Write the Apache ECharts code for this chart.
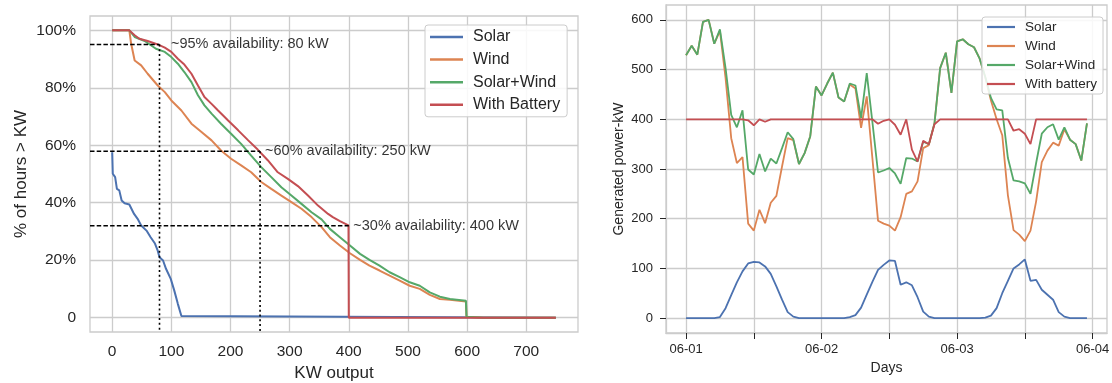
<!DOCTYPE html>
<html><head><meta charset="utf-8">
<script src="https://cdn.jsdelivr.net/npm/echarts@6/dist/echarts.min.js"></script>
<style>html,body{margin:0;padding:0;background:#fff}#c{width:1112px;height:383px}</style>
</head><body><div id="c"></div>
<script>
// ---------- Left chart: duration curves (kW output vs fraction of hours) ----------
const solarKW   = [0, 1, 5, 8, 12, 16, 21, 29, 37, 43, 49, 58, 65, 72, 77, 80, 86, 91, 99, 105, 111, 117, 118, 750];
const solarFrac = [.576, .501, .489, .448, .443, .408, .398, .394, .361, .344, .321, .303, .280, .259, .233, .210, .199, .170, .135, .094, .048, .006, 0, 0];

const windKW   = [0, 29, 32, 38, 49, 60, 77, 89, 100, 117, 134, 151, 168, 184, 201, 218, 235, 252, 269, 286, 303, 320, 337, 354, 368, 385, 402, 419, 435, 452, 469, 486, 503, 520, 537, 554, 571, 598, 599, 627, 750];
const windFrac = [1, 1, .954, .895, .878, .849, .808, .785, .756, .721, .675, .646, .617, .582, .553, .530, .506, .472, .448, .425, .402, .379, .350, .315, .280, .251, .224, .201, .181, .164, .146, .129, .111, .100, .079, .065, .062, .056, .003, 0, 0];

const swKW   = [0, 29, 38, 55, 74, 89, 100, 111, 122, 134, 145, 156, 168, 184, 201, 218, 235, 252, 269, 286, 303, 320, 337, 354, 368, 385, 402, 419, 435, 452, 469, 486, 503, 520, 537, 554, 571, 598, 599, 627, 750];
const swFrac = [1, 1, .977, .963, .936, .925, .907, .884, .855, .820, .774, .739, .710, .675, .640, .605, .564, .524, .489, .454, .425, .396, .367, .342, .309, .280, .251, .222, .201, .181, .158, .141, .123, .111, .088, .073, .065, .059, .003, 0, 0];

const battKW   = [0, 29, 38, 46, 60, 77, 89, 100, 111, 122, 134, 145, 156, 168, 179, 196, 213, 230, 246, 263, 280, 297, 314, 331, 348, 365, 373, 385, 399.5, 400, 750];
const battFrac = [1, 1, .983, .971, .963, .951, .940, .925, .901, .881, .849, .808, .768, .744, .721, .686, .652, .617, .585, .548, .506, .483, .458, .425, .390, .361, .350, .336, .321, 0, 0];

const leftXTicks = [0, 100, 200, 300, 400, 500, 600, 700];
const leftYTicks = [0, 0.2, 0.4, 0.6, 0.8, 1.0];

const annotKW   = [80, 250, 400];
const annotFrac = [0.951, 0.579, 0.32];
const annotVert = [true, true, false];
const annotText = ['~95% availability: 80 kW', '~60% availability: 250 kW', '~30% availability: 400 kW'];

// ---------- Right chart: hourly generation over 3 days (hour index 0..71) ----------
const hours = [];
for (let h = 0; h < 72; h++) hours.push(h);
const solarHourly = [0,0,0,0,0,0,2,20,46,72,94,110,113,112,104,89,64,37,12,3,0,0,0,0,
  0,0,0,0,0,2,6,21,47,73,97,107,116,115,67,72,66,42,13,3,0,0,0,0,
  0,0,0,0,0,1,5,20,50,75,100,108,118,75,77,57,47,37,12,3,0,0,0,0];
const windHourly = [529,548,530,596,600,552,578,483,362,312,324,190,176,218,191,232,246,305,362,358,310,332,366,466,
  448,472,494,444,436,470,462,383,446,322,196,190,186,176,203,250,255,275,342,348,392,503,534,453,
  557,561,551,545,522,484,438,400,368,247,177,168,155,176,235,314,337,353,347,380,359,350,317,392];
const swHourly = [529,548,530,596,600,552,581,503,409,384,418,299,289,330,295,321,311,342,374,360,310,332,366,466,
  448,472,494,444,436,472,468,403,493,395,293,297,302,291,270,322,321,315,355,350,392,503,534,453,
  557,561,551,545,522,485,443,420,418,322,277,275,271,250,312,371,384,390,359,384,359,350,317,392];
const battHourly = [400,400,400,400,400,400,400,400,400,400,400,398,388,400,395,400,400,400,400,400,400,400,400,400,
  400,400,400,400,400,400,400,400,400,400,391,397,400,389,369,400,339,315,357,350,390,400,400,400,
  400,400,400,400,400,400,400,400,400,400,377,380,371,350,400,400,400,400,400,400,400,400,400,400];
const rightXTicks = [0, 12, 24, 36, 48, 60, 72];
const rightXLabels = [0, 24, 48, 72];
const dayNames = ['06-01', '06-02', '06-03', '06-04'];
const rightYTicks = [0, 100, 200, 300, 400, 500, 600];

// ---------- styling ----------
const FONT = 'Liberation Sans, Arial, sans-serif';
const TXT = '#262626';
const GRIDC = '#cccccc';
const C = {solar: '#4C72B0', wind: '#DD8452', sw: '#55A868', batt: '#C44E52'};

function zip(a, b) { return a.map((v, i) => [v, b[i]]); }

const LMIN = -37.5, LMAX = 787.5, LYMIN = -0.05, LYMAX = 1.05;

function lineSeries(name, data, color, xi, w) {
  return {
    type: 'line', name, data, xAxisIndex: xi, yAxisIndex: xi,
    showSymbol: false, symbol: 'none', animation: false, smooth: false,
    lineStyle: {color, width: w}, itemStyle: {color}, z: 3
  };
}

const series = [
  lineSeries('Solar', zip(solarKW, solarFrac), C.solar, 0, 2),
  lineSeries('Wind', zip(windKW, windFrac), C.wind, 0, 2),
  lineSeries('Solar+Wind', zip(swKW, swFrac), C.sw, 0, 2),
  lineSeries('With Battery', zip(battKW, battFrac), C.batt, 0, 2),
  lineSeries('Solar', zip(hours, solarHourly), C.solar, 1, 1.8),
  lineSeries('Wind', zip(hours, windHourly), C.wind, 1, 1.8),
  lineSeries('Solar+Wind', zip(hours, swHourly), C.sw, 1, 1.8),
  lineSeries('With battery', zip(hours, battHourly), C.batt, 1, 1.8)
];

const labelOffsets = [11, 4.5, 4];
annotKW.forEach((kw, i) => {
  series.push({
    type: 'line', xAxisIndex: 0, yAxisIndex: 0, symbol: 'none', animation: false, silent: true, z: 5,
    data: [[LMIN, annotFrac[i]], [kw, annotFrac[i]]],
    lineStyle: {color: '#000', width: 1.6, type: [4.5, 2.2]}
  });
  if (annotVert[i]) {
    series.push({
      type: 'line', xAxisIndex: 0, yAxisIndex: 0, symbol: 'none', animation: false, silent: true, z: 5,
      data: [[kw, annotFrac[i]], [kw, LYMIN]],
      lineStyle: {color: '#000', width: 1.6, type: [2, 2.8]}
    });
  }
  series.push({
    type: 'scatter', xAxisIndex: 0, yAxisIndex: 0, animation: false, silent: true, z: 6,
    symbolSize: 1, itemStyle: {color: 'rgba(0,0,0,0)'},
    data: [{value: [kw, annotFrac[i]], name: annotText[i]}],
    label: {show: true, position: 'right', distance: labelOffsets[i], formatter: '{b}',
      color: '#000', fontFamily: FONT, fontSize: 14.5}
  });
});

const option = {
  backgroundColor: '#fff',
  animation: false,
  textStyle: {fontFamily: FONT},
  grid: [
    {left: 90, top: 16, width: 488, height: 316, show: true, borderColor: GRIDC, borderWidth: 1.3,
      containLabel: false, outerBoundsMode: 'none'},
    {left: 666, top: 5, width: 441, height: 328, show: true, borderColor: GRIDC, borderWidth: 1.3,
      containLabel: false, outerBoundsMode: 'none'}
  ],
  xAxis: [
    {type: 'value', gridIndex: 0, min: LMIN, max: LMAX,
      name: 'KW output', nameLocation: 'middle', nameGap: 31,
      nameTextStyle: {color: TXT, fontSize: 17, fontFamily: FONT},
      axisLine: {show: false}, axisTick: {show: false, customValues: leftXTicks},
      axisLabel: {customValues: leftXTicks, color: TXT, fontSize: 15.5, fontFamily: FONT, margin: 12},
      splitLine: {show: true, lineStyle: {color: GRIDC, width: 1.3}}},
    {type: 'value', gridIndex: 1, min: -3.55, max: 74.55,
      name: 'Days', nameLocation: 'middle', nameGap: 28,
      nameTextStyle: {color: TXT, fontSize: 14, fontFamily: FONT},
      axisLine: {show: true, onZero: false, lineStyle: {color: GRIDC, width: 1.3}},
      axisTick: {show: true, customValues: rightXTicks, length: 6, lineStyle: {color: TXT, width: 1}},
      axisLabel: {customValues: rightXLabels, color: TXT, fontSize: 13, fontFamily: FONT, margin: 10,
        formatter: v => dayNames[Math.round(v / 24)]},
      splitLine: {show: true, lineStyle: {color: GRIDC, width: 1.3}}}
  ],
  yAxis: [
    {type: 'value', gridIndex: 0, min: LYMIN, max: LYMAX,
      name: '% of hours > KW', nameLocation: 'middle', nameGap: 60, nameRotate: 90,
      nameTextStyle: {color: TXT, fontSize: 17, fontFamily: FONT},
      axisLine: {show: false}, axisTick: {show: false, customValues: leftYTicks},
      axisLabel: {customValues: leftYTicks, color: TXT, fontSize: 15.5, fontFamily: FONT, margin: 14,
        formatter: v => (Math.abs(v) < 1e-9 ? '0' : Math.round(v * 100) + '%')},
      splitLine: {show: true, lineStyle: {color: GRIDC, width: 1.3}}},
    {type: 'value', gridIndex: 1, min: -30, max: 630,
      name: 'Generated power-kW', nameLocation: 'middle', nameGap: 40, nameRotate: 90,
      nameTextStyle: {color: TXT, fontSize: 14, fontFamily: FONT},
      axisLine: {show: true, onZero: false, lineStyle: {color: GRIDC, width: 1.3}},
      axisTick: {show: true, customValues: rightYTicks, length: 6, lineStyle: {color: TXT, width: 1}},
      axisLabel: {customValues: rightYTicks, color: TXT, fontSize: 13, fontFamily: FONT, margin: 13},
      splitLine: {show: true, lineStyle: {color: GRIDC, width: 1.3}}}
  ],
  legend: [
    {orient: 'vertical', left: 425, top: 25, data: ['Solar', 'Wind', 'Solar+Wind', 'With Battery'],
      icon: 'rect', itemWidth: 33, itemHeight: 2.5, itemGap: 6.6,
      padding: [4, 7, 4, 5], backgroundColor: 'rgba(255,255,255,0.85)', borderColor: GRIDC, borderWidth: 1, borderRadius: 3,
      textStyle: {color: TXT, fontSize: 16, fontFamily: FONT, lineHeight: 16, padding: [0, 0, 0, 5]}},
    {orient: 'vertical', left: 982, top: 17, data: ['Solar', 'Wind', 'Solar+Wind', 'With battery'],
      icon: 'rect', itemWidth: 28, itemHeight: 2.2, itemGap: 5,
      padding: [3, 6, 3, 5], backgroundColor: 'rgba(255,255,255,0.85)', borderColor: GRIDC, borderWidth: 1, borderRadius: 3,
      textStyle: {color: TXT, fontSize: 13.5, fontFamily: FONT, lineHeight: 14, padding: [0, 0, 0, 5]}}
  ],
  series
};

const chart = echarts.init(document.getElementById('c'), null, {renderer: 'canvas', width: 1112, height: 383});
chart.setOption(option);
</script>
</body></html>
